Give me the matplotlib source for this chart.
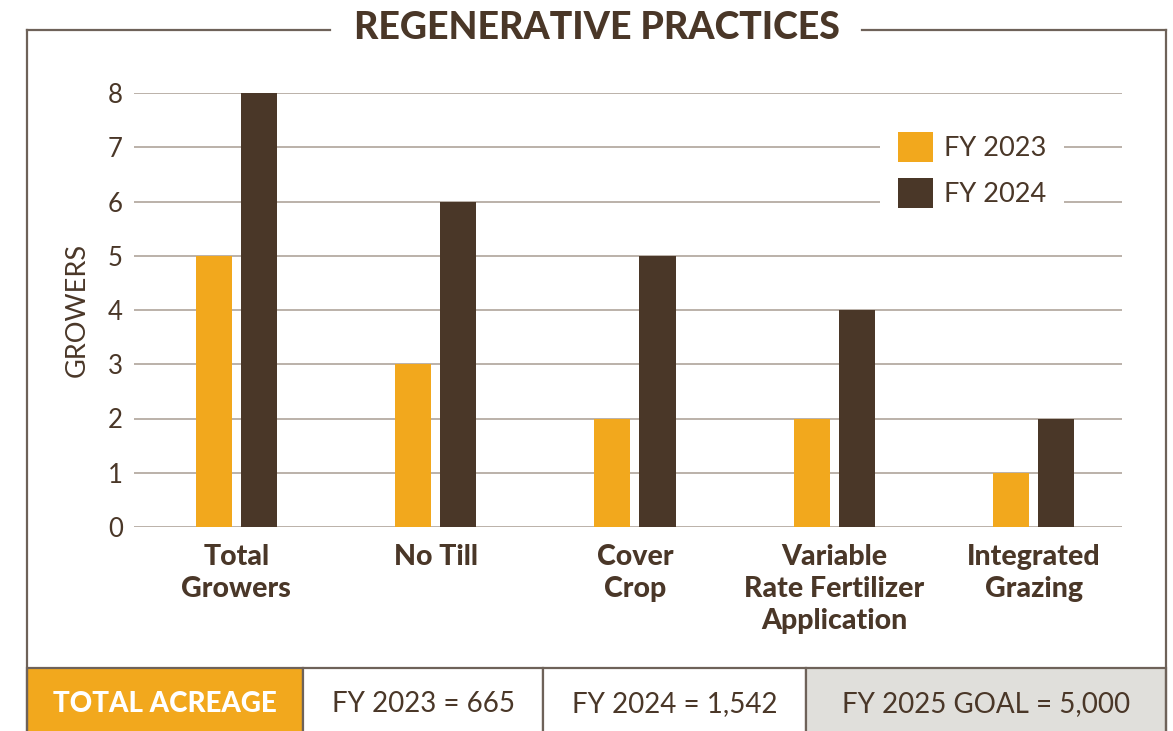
import numpy as np
import matplotlib.pyplot as plt
from matplotlib.patches import Patch, Rectangle
from matplotlib.lines import Line2D

plt.rcParams['font.family'] = ['Lato', 'DejaVu Sans']

# data
categories = ['Total\nGrowers', 'No Till', 'Cover\nCrop',
              'Variable\nRate Fertilizer\nApplication', 'Integrated\nGrazing']
fy2023 = [5, 3, 2, 2, 1]
fy2024 = [8, 6, 5, 4, 2]
series_names = ['FY 2023', 'FY 2024']
acreage_header = 'TOTAL ACREAGE'
acreage_cells = ['FY 2023 = 665', 'FY 2024 = 1,542', 'FY 2025 GOAL = 5,000']

ORANGE = '#F2A81D'
BROWN = '#4A3728'
GRID = '#B5ABA3'
FRAME = '#6E6259'
GREYCELL = '#E0DFDB'

W, H = 1173, 731
fig = plt.figure(figsize=(W / 100, H / 100), dpi=100)

def fx(px):
    return px / W

def fy(py):
    return 1 - py / H

# axes placed in pixel terms
ax = fig.add_axes([fx(134), fy(527), fx(1122) - fx(134), fy(93) - fy(527)])

x = np.arange(len(categories))
bw = 0.181
off = 0.113
ax.bar(x - off, fy2023, bw, color=ORANGE, zorder=3, label=series_names[0])
ax.bar(x + off, fy2024, bw, color=BROWN, zorder=3, label=series_names[1])

ax.set_xlim(-0.514, 4.444)
ax.set_ylim(0, 8)
ax.set_yticks(range(0, 9))
ax.yaxis.grid(True, color=GRID, linewidth=1.3, zorder=0)
ax.set_axisbelow(True)
for s in ax.spines.values():
    s.set_visible(False)
ax.tick_params(axis='y', length=0, pad=8, labelsize=18.5, labelcolor=BROWN)
ax.tick_params(axis='x', length=0, pad=12)
ax.set_xticks(x)
ax.set_xticklabels(categories, fontsize=20.5, fontweight='black', color=BROWN,
                   linespacing=1.3)
ax.set_ylabel('GROWERS', fontsize=19.5, color=BROWN, labelpad=13)

handles = [Patch(facecolor=ORANGE, edgecolor='none'),
           Patch(facecolor=BROWN, edgecolor='none')]
leg = ax.legend(handles, series_names, loc='upper left',
                bbox_to_anchor=(0.755, 0.95), borderaxespad=0,
                fontsize=19.5, frameon=True, fancybox=False,
                handlelength=1.3, handleheight=1.3, handletextpad=0.4,
                labelspacing=0.6, borderpad=0.65)
leg.get_frame().set_facecolor('white')
leg.get_frame().set_edgecolor('none')
leg.get_frame().set_alpha(1)
for t in leg.get_texts():
    t.set_color(BROWN)

# outer frame with title gap
lw = 1.6
fig.add_artist(Line2D([fx(27), fx(330)], [fy(30), fy(30)], color=FRAME, lw=lw))
fig.add_artist(Line2D([fx(862), fx(1166)], [fy(30), fy(30)], color=FRAME, lw=lw))
fig.add_artist(Line2D([fx(27), fx(27)], [fy(30), fy(740)], color=FRAME, lw=lw))
fig.add_artist(Line2D([fx(1166), fx(1166)], [fy(30), fy(740)], color=FRAME, lw=lw))
fig.text(fx(597), fy(28), 'REGENERATIVE PRACTICES', ha='center', va='center',
         fontsize=27, fontweight='black', color=BROWN)

# acreage row
edges = [27, 303, 543, 806, 1166]
fills = [ORANGE, 'white', 'white', GREYCELL]
texts = [acreage_header] + acreage_cells
for i in range(4):
    fig.add_artist(Rectangle((fx(edges[i]), fy(740)), fx(edges[i + 1]) - fx(edges[i]),
                             fy(668) - fy(740), facecolor=fills[i], edgecolor=FRAME,
                             lw=lw, transform=fig.transFigure))
    fig.text(fx((edges[i] + edges[i + 1]) / 2), fy(704), texts[i], ha='center',
             va='center', fontsize=20,
             fontweight='black' if i == 0 else 'normal',
             color='white' if i == 0 else BROWN)

fig.savefig('out.png', dpi=100)
